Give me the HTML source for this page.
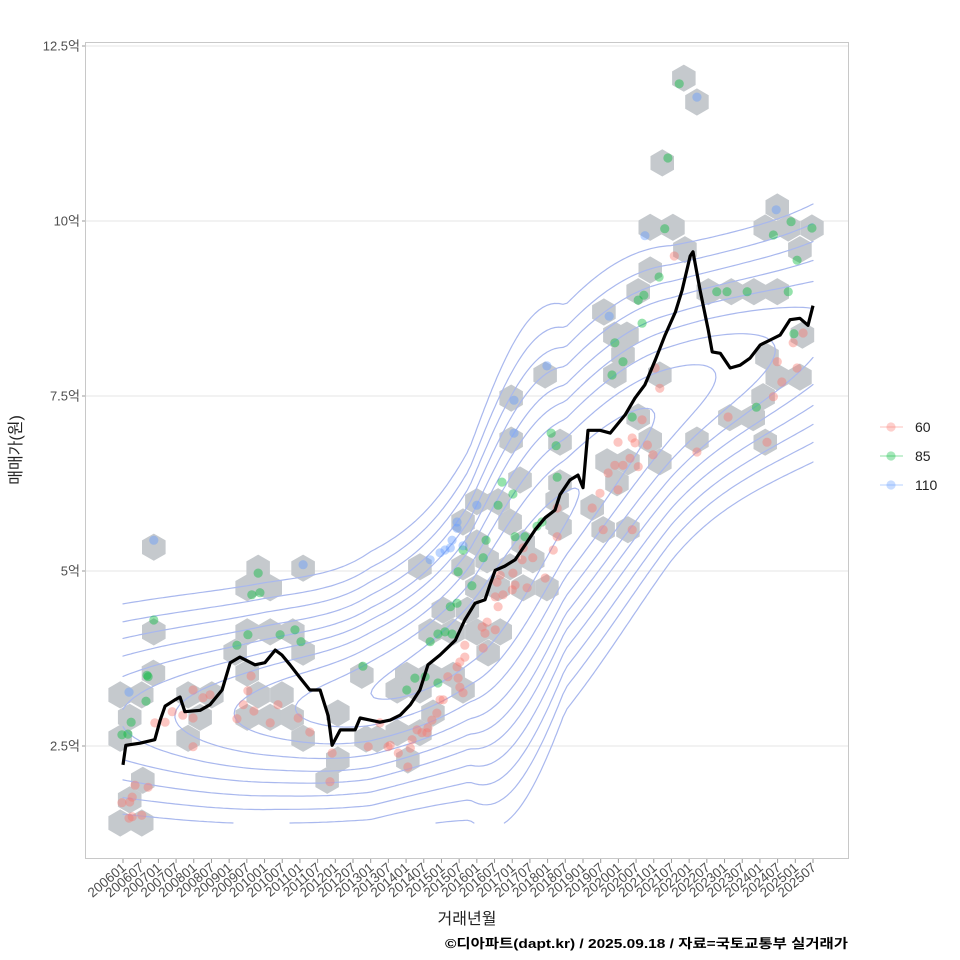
<!DOCTYPE html>
<html><head><meta charset="utf-8">
<style>
html,body{margin:0;padding:0;background:#fff;}
svg{display:block;font-family:"Liberation Sans","Noto Sans CJK KR",sans-serif;}
</style></head>
<body>
<svg id="chart" width="960" height="960" viewBox="0 0 960 960">
<rect x="0" y="0" width="960" height="960" fill="#fff"/>
<g id="grid"></g>
<g id="hexes"></g>
<g id="contours"></g>
<g id="points"></g>
<g id="line"></g>
<rect x="85.5" y="42.5" width="763" height="816" fill="none" stroke="#c8c8c8"/>
<g id="axes"></g>
<text x="467" y="924" font-size="16" fill="#222" text-anchor="middle">거래년월</text>
<text transform="translate(21,450) rotate(-90)" font-size="16" fill="#222" text-anchor="middle">매매가(원)</text>
<text x="445" y="948" font-size="13" font-weight="bold" fill="#000" textLength="403" lengthAdjust="spacingAndGlyphs">©디아파트(dapt.kr) / 2025.09.18 / 자료=국토교통부 실거래가</text>
<g id="legend"></g>
</svg>
<script>
// ---- data ----
const yTicks = [2.5, 5, 7.5, 10, 12.5];
const yTickLabels = ["2.5억","5억","7.5억","10억","12.5억"];
const xTickYears = [];
const xTickLabels = [];
for (let y = 2006; y <= 2025; y++) { xTickYears.push(y); xTickLabels.push(y+"01"); xTickYears.push(y+0.5); xTickLabels.push(y+"07"); }
const lineYears = [2006.00,2006.08,2006.48,2006.90,2007.05,2007.19,2007.47,2007.61,2007.75,2008.18,2008.46,2008.80,2009.03,2009.30,2009.73,2010.01,2010.30,2010.49,2010.72,2011.01,2011.28,2011.57,2011.80,2011.91,2012.14,2012.56,2012.70,2012.98,2013.26,2013.55,2013.83,2014.12,2014.39,2014.62,2014.96,2015.39,2015.66,2015.95,2016.23,2016.37,2016.52,2016.79,2017.08,2017.36,2017.65,2017.93,2018.21,2018.35,2018.63,2018.86,2019.00,2019.14,2019.48,2019.77,2020.19,2020.47,2020.75,2021.04,2021.32,2021.61,2021.80,2022.03,2022.11,2022.31,2022.54,2022.65,2022.88,2023.16,2023.44,2023.72,2024.01,2024.29,2024.57,2024.85,2025.13,2025.36,2025.50];
const lineValues = [2.23,2.51,2.54,2.59,2.87,3.07,3.16,3.20,2.99,3.01,3.09,3.30,3.69,3.77,3.66,3.69,3.87,3.80,3.66,3.47,3.30,3.30,2.93,2.51,2.73,2.73,2.90,2.87,2.84,2.87,2.94,3.09,3.30,3.66,3.80,4.01,4.30,4.54,4.59,4.80,5.01,5.07,5.16,5.37,5.59,5.76,5.87,6.09,6.30,6.37,6.19,7.01,7.01,6.97,7.23,7.47,7.66,8.01,8.37,8.70,9.01,9.50,9.56,9.01,8.44,8.13,8.11,7.90,7.94,8.04,8.23,8.30,8.37,8.59,8.61,8.51,8.79];
const hexYears = [2006.87,2009.82,2011.09,2009.51,2010.16,2006.87,2009.51,2010.16,2010.80,2009.17,2011.09,2006.86,2009.51,2012.75,2005.92,2006.53,2007.84,2008.51,2009.82,2010.49,2006.19,2008.18,2009.51,2010.16,2010.78,2012.07,2005.92,2007.84,2011.09,2012.07,2011.77,2006.56,2006.19,2005.92,2006.53,2013.18,2012.87,
2017.22,2016.00,2016.60,2018.27,2016.94,2015.61,2018.27,2016.00,2017.31,2016.29,2014.39,2015.61,2016.94,2017.58,2016.00,2016.60,2017.31,2017.98,2015.05,2015.73,2014.68,2015.33,2016.00,2016.66,2016.32,2014.02,2014.68,2015.33,2013.75,2014.39,2015.61,2014.76,2014.39,2013.75,2014.05,
2021.85,2022.22,2021.24,2024.49,2020.90,2021.54,2024.15,2024.80,2025.47,2021.88,2025.13,2020.90,2020.56,2022.54,2023.19,2023.83,2024.49,2019.59,2020.24,2019.90,2025.20,2020.13,2019.90,2021.17,2024.20,2024.49,2025.13,2024.09,2020.56,2023.15,2023.81,2020.90,2022.22,2024.15,2019.68,2020.27,2021.17,2019.96,2018.35,2018.35,2019.26,2019.57,2020.27,2018.35,2016.97,2016.97,2017.93];
const hexValues = [5.34,5.04,5.04,4.76,4.76,4.13,4.13,4.13,4.13,3.84,3.84,3.54,3.54,3.51,3.23,3.23,3.23,3.23,3.23,3.23,2.91,2.91,2.91,2.91,2.91,2.97,2.61,2.61,2.61,2.30,2.01,2.01,1.73,1.40,1.40,2.6,2.6,
6.30,5.99,5.99,6.01,5.70,5.70,5.70,5.40,5.40,5.16,5.06,5.06,5.06,5.16,4.76,4.76,4.76,4.76,4.44,4.44,4.13,4.13,4.13,4.13,3.83,3.51,3.51,3.51,3.30,3.30,3.30,2.97,2.69,2.69,2.30,
12.04,11.70,10.83,10.20,9.91,9.91,9.90,9.90,9.90,9.59,9.59,9.30,8.99,8.99,8.99,8.99,8.99,8.70,8.37,8.37,8.37,8.09,7.80,7.80,8.06,7.77,7.77,7.49,7.20,7.19,7.19,6.87,6.87,6.84,6.56,6.56,6.56,6.26,6.84,6.26,5.91,5.59,5.59,5.63,7.47,6.87,7.80];
const redYears = [2006.34,2006.71,2006.26,2005.97,2006.19,2006.26,2006.53,2006.17,2007.98,2008.26,2008.46,2007.39,2007.69,2007.98,2006.90,2007.19,2007.98,2009.62,2009.53,2009.40,2009.70,2009.22,2010.38,2010.16,2010.95,2011.28,2011.91,2011.85,2012.93,2013.49,
2018.27,2018.27,2018.16,2017.31,2017.58,2017.28,2017.02,2016.66,2016.57,2017.08,2017.00,2017.42,2017.93,2016.74,2016.52,2016.60,2016.29,2016.23,2016.15,2016.52,2016.18,2015.66,2015.66,2015.52,2015.44,2015.18,2015.47,2015.52,2015.61,2014.96,2015.05,2014.87,2014.73,2014.62,2014.59,2014.31,2014.17,2014.45,2013.55,2013.78,2014.12,2014.05,2013.26,
2021.04,2021.17,2020.67,2020.39,2019.99,2020.47,2020.82,2020.98,2020.33,2020.13,2019.90,2020.56,2019.71,2019.99,2019.48,2019.26,2019.57,2020.39,2022.22,2023.10,2024.49,2024.62,2024.38,2024.20,2025.05,2024.94,2025.22,2021.58];
const redValues = [1.94,1.91,1.77,1.69,1.70,1.49,1.51,1.47,3.30,3.19,3.23,2.99,2.94,2.90,2.83,2.84,2.49,3.50,3.29,3.09,3.00,2.89,3.09,2.83,2.90,2.70,2.40,1.99,2.49,2.49,
5.90,5.49,5.30,5.33,5.19,5.16,4.97,4.94,4.84,4.80,4.73,4.76,4.90,4.66,4.63,4.49,4.27,4.11,4.20,4.16,3.90,3.94,3.77,3.70,3.63,3.49,3.47,3.34,3.26,3.16,3.16,2.97,2.87,2.76,2.69,2.73,2.59,2.69,2.51,2.40,2.47,2.20,2.83,
7.90,7.61,7.16,6.90,6.84,6.83,6.80,6.66,6.61,6.51,6.51,6.49,6.40,6.16,6.11,5.90,5.59,5.59,6.70,7.20,7.99,7.70,7.49,6.84,7.90,8.26,8.40,9.50];
const greenYears = [2006.87,2009.82,2009.64,2009.87,2006.68,2006.71,2006.65,2006.23,2005.97,2006.14,2009.53,2009.22,2010.44,2010.86,2011.03,2012.78,2016.71,2017.02,2018.27,2016.60,2017.70,2017.84,2017.08,2017.36,2016.26,2015.61,2016.18,2015.47,2015.86,2015.25,2015.44,2015.10,2014.90,2015.30,2014.68,2014.25,2014.54,2014.90,2014.02,
2021.72,2021.40,2024.88,2025.47,2024.38,2025.05,2021.31,2021.15,2020.56,2020.72,2020.67,2019.90,2022.78,2023.07,2023.64,2024.80,2024.96,2020.13,2019.82,2020.39,2023.90,2018.10,2018.24];
const greenValues = [4.30,4.97,4.66,4.69,3.51,3.49,3.14,2.84,2.66,2.67,4.09,3.94,4.09,4.16,3.99,3.64,6.27,6.10,6.34,5.94,5.64,5.70,5.49,5.49,5.44,5.30,5.19,4.99,4.79,4.49,4.54,4.13,4.10,4.10,3.99,3.47,3.49,3.40,3.30,
11.96,10.90,9.99,9.90,9.80,9.44,9.89,9.20,8.87,8.94,8.54,8.26,8.99,8.99,8.99,8.99,8.39,7.99,7.80,7.20,7.34,6.97,6.79];
const blueYears = [2006.87,2011.09,2006.17,2022.22,2024.46,2020.75,2019.74,2017.05,2017.05,2017.98,2016.00,2015.44,2015.44,2015.30,2015.10,2015.25,2014.68,2014.96,2015.61];
const blueValues = [5.44,5.09,3.27,11.77,10.16,9.79,8.64,7.44,6.97,7.93,5.94,5.70,5.61,5.44,5.30,5.33,5.16,5.26,5.36];
// density ridge (trend of transactions) and contour levels
const kdeYears = [2006.0, 2010.0, 2013.0, 2015.8, 2018.5, 2021.5, 2025.5];
const kdeCenter = [2.9, 3.0, 3.25, 4.1, 5.9, 7.4, 8.4];
const kdeLevels = [0.92,0.78,0.64,0.5,0.38,0.28,0.19,0.12,0.07,0.035];
const legendLabels = ["60","85","110"];

// ---- scales ----
const NS = "http://www.w3.org/2000/svg";
function X(yr){ return 123 + (yr-2006)*(690/19.5); }
function Y(v){ return 746 - (v-2.5)*70; }
function mk(tag, attrs, parent){ const e=document.createElementNS(NS,tag); for(const k in attrs) e.setAttribute(k, attrs[k]); parent.appendChild(e); return e; }

const grid = document.getElementById('grid');
const axes = document.getElementById('axes');
yTicks.forEach((t,i)=>{
  const gl = mk('line',{x1:86,x2:848,y1:Y(t),y2:Y(t),stroke:'#e6e6e6','stroke-width':1},grid);
  
  
  const tk = mk('line',{x1:82,x2:85,y1:Y(t),y2:Y(t),stroke:'#999'},axes);
  
  
  const tx = mk('text',{x:80,y:Y(t)+4.5,'font-size':13,fill:'#4d4d4d','text-anchor':'end'},axes);
  tx.textContent = yTickLabels[i];
  
  
});
xTickYears.forEach((t,i)=>{
  const x = X(t);
  const tk = mk('line',{x1:x,x2:x,y1:859,y2:863,stroke:'#999'},axes);
  
  
  const tx = mk('text',{transform:`translate(${x+4},${869}) rotate(-40)`,'font-size':13.5,fill:'#4d4d4d','text-anchor':'end'},axes);
  tx.textContent = xTickLabels[i];
  
  
});

// hexes
const hexG = document.getElementById('hexes');
const R = 13.6;
hexYears.forEach((yr,i)=>{
  const cx=X(yr), cy=Y(hexValues[i]);
  let pts=[];
  for(let k=0;k<6;k++){ const a=Math.PI/180*(90+60*k); pts.push((cx+R*Math.cos(a)).toFixed(1)+','+(cy+R*Math.sin(a)).toFixed(1)); }
  const h = mk('polygon',{points:pts.join(' '),fill:'#c5c9cd'},hexG);
  
  
});

// contours via marching squares on a smooth density surface
const kxs = kdeYears.map(X), kys = kdeCenter.map(Y);
function slopeAt(i){
  if(i===0) return (kys[1]-kys[0])/(kxs[1]-kxs[0]);
  const n=kxs.length;
  if(i===n-1) return (kys[n-1]-kys[n-2])/(kxs[n-1]-kxs[n-2]);
  return (kys[i+1]-kys[i-1])/(kxs[i+1]-kxs[i-1]);
}
function cY(px){
  if(px<=kxs[0]) return kys[0] + slopeAt(0)*(px-kxs[0]);
  for(let i=0;i<kxs.length-1;i++){
    if(px<=kxs[i+1]){
      const h=kxs[i+1]-kxs[i], t=(px-kxs[i])/h;
      const h00=2*t*t*t-3*t*t+1,h10=t*t*t-2*t*t+t,h01=-2*t*t*t+3*t*t,h11=t*t*t-t*t;
      return h00*kys[i]+h10*h*slopeAt(i)+h01*kys[i+1]+h11*h*slopeAt(i+1);
    }
  }
  const n=kys.length; return kys[n-1] + slopeAt(n-1)*(px-kxs[n-1]);
}
const peakX = X(2015.95);
function dens(px,py){
  const c = cY(px);
  const sl = (cY(px+3)-cY(px-3))/6;
  const s = 52*Math.sqrt(1+sl*sl);
  const A = Math.exp(-Math.pow(px-peakX,2)/(2*255*255));
  return A*Math.exp(-Math.pow(py-c,2)/(2*s*s));
}
const cg = document.getElementById('contours');
const x0=X(2006), x1=X(2025.5), yTop=Y(12.05), yBot=Y(1.4), step=4;
const nx=Math.ceil((x1-x0)/step), ny=Math.ceil((yBot-yTop)/step);
const F=[];
for(let j=0;j<=ny;j++){ const row=[]; for(let i=0;i<=nx;i++){ row.push(dens(Math.min(x0+i*step,x1), Math.min(yTop+j*step,yBot))); } F.push(row); }
kdeLevels.forEach(L=>{
  let d='';
  for(let j=0;j<ny;j++) for(let i=0;i<nx;i++){
    const xa=Math.min(x0+i*step,x1), xb=Math.min(x0+(i+1)*step,x1), ya=Math.min(yTop+j*step,yBot), yb=Math.min(yTop+(j+1)*step,yBot);
    const a=F[j][i], b=F[j][i+1], c=F[j+1][i+1], e=F[j+1][i];
    const pts=[];
    if((a-L)*(b-L)<0){ const t=(L-a)/(b-a); pts.push([xa+t*(xb-xa),ya]); }
    if((b-L)*(c-L)<0){ const t=(L-b)/(c-b); pts.push([xb,ya+t*(yb-ya)]); }
    if((e-L)*(c-L)<0){ const t=(L-e)/(c-e); pts.push([xa+t*(xb-xa),yb]); }
    if((a-L)*(e-L)<0){ const t=(L-a)/(e-a); pts.push([xa,ya+t*(yb-ya)]); }
    for(let k=0;k+1<pts.length;k+=2) d+=`M${pts[k][0].toFixed(1)} ${pts[k][1].toFixed(1)}L${pts[k+1][0].toFixed(1)} ${pts[k+1][1].toFixed(1)}`;
  }
  const p = mk('path',{d:d,fill:'none',stroke:'#a9b8ee','stroke-width':1.2,'stroke-linecap':'round'},cg);
  
  
});

// points
const pg = document.getElementById('points');
function drawPts(ys, vs, col, name){
  ys.forEach((yr,i)=>{
    const c = mk('circle',{cx:X(yr),cy:Y(vs[i]),r:4.6,fill:col,'fill-opacity':0.42},pg);
    
    
  });
}
drawPts(redYears, redValues, '#F8766D', 'point-60');
drawPts(greenYears, greenValues, '#00BA38', 'point-85');
drawPts(blueYears, blueValues, '#619CFF', 'point-110');

// median line
const lg = document.getElementById('line');
const ml = mk('polyline',{points:lineYears.map((y,i)=>X(y).toFixed(1)+','+Y(lineValues[i]).toFixed(1)).join(' '),fill:'none',stroke:'#000','stroke-width':3.2,'stroke-linejoin':'round'},lg);



// legend
const leg = document.getElementById('legend');
const legCols = ['#F8766D','#00BA38','#619CFF'];
const legY = [427,456,485];
legendLabels.forEach((lab,i)=>{
  const ln = mk('line',{x1:880,x2:903,y1:legY[i],y2:legY[i],stroke:legCols[i],'stroke-opacity':0.3,'stroke-width':1.5},leg);
  
  
  const c = mk('circle',{cx:891,cy:legY[i],r:4.6,fill:legCols[i],'fill-opacity':0.35},leg);
  
  
  const t = mk('text',{x:915,y:legY[i]+5,'font-size':14,fill:'#222'},leg);
  t.textContent = lab;
  
  
});
</script>
</body></html>
